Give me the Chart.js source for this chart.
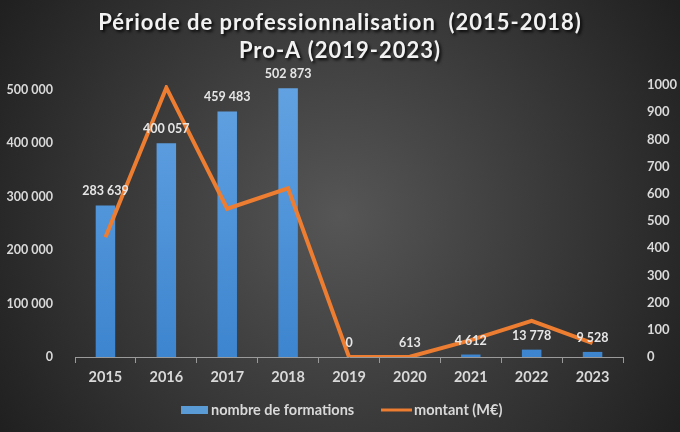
<!DOCTYPE html>
<html><head><meta charset="utf-8">
<script src="https://cdn.jsdelivr.net/npm/chart.js@4/dist/chart.umd.min.js"></script>
<style>html,body{margin:0;padding:0;background:#333;}#wrap{width:680px;height:432px;}</style>
</head><body><div id="wrap"><canvas id="c" width="680" height="432"></canvas></div>
<script>
const titleLines = ["Période de professionnalisation  (2015-2018)", "Pro-A (2019-2023)"];
const categories = ["2015","2016","2017","2018","2019","2020","2021","2022","2023"];
const formations = [283639, 400057, 459483, 502873, 0, 613, 4612, 13778, 9528];
const montant = [440, 990, 545, 620, 0, 1, 62, 133, 51];
const leftTicks = [0, 100000, 200000, 300000, 400000, 500000];
const rightTicks = [0,100,200,300,400,500,600,700,800,900,1000];
const seriesNames = ["nombre de formations", "montant (M€)"];

const FONT = "Lato";
const TXT = "#d9d9d9";
const fmt = v => String(v).replace(/\B(?=(\d{3})+(?!\d))/g, " ");

const bgPlugin = {
  id: "bg",
  beforeDraw(chart) {
    const ctx = chart.ctx, w = chart.width, h = chart.height;
    const g = ctx.createRadialGradient(w/2, h/2, 0, w/2, h/2, 400);
    g.addColorStop(0, "#565656");
    g.addColorStop(1, "#202020");
    ctx.save(); ctx.fillStyle = g; ctx.fillRect(0,0,w,h); ctx.restore();
  },
  afterDraw(chart) {
    const ctx = chart.ctx;
    ctx.save();
    ctx.font = "bold 22px " + FONT;
    ctx.letterSpacing = "1px";
    ctx.fillStyle = "#f2f2f2";
    ctx.textAlign = "center"; ctx.textBaseline = "middle";
    ctx.shadowColor = "rgba(0,0,0,0.85)"; ctx.shadowBlur = 3; ctx.shadowOffsetX = 2; ctx.shadowOffsetY = 2;
    ctx.fillText(titleLines[0], 340, 23);
    ctx.fillText(titleLines[1], 340, 51);
    ctx.restore();
    ctx.save();
    ctx.fillStyle = "#5b9bd5";
    ctx.fillRect(181, 406, 27, 8);
    ctx.font = "bold 14.5px " + FONT; ctx.fillStyle = TXT;
    ctx.textBaseline = "middle"; ctx.textAlign = "left";
    ctx.fillText(seriesNames[0], 211, 410);
    ctx.strokeStyle = "#ed7d31"; ctx.lineWidth = 3;
    ctx.beginPath(); ctx.moveTo(381, 410); ctx.lineTo(412, 410); ctx.stroke();
    ctx.fillText(seriesNames[1], 414, 410);
    ctx.restore();
  },
  afterDatasetsDraw(chart) {
    const ctx = chart.ctx;
    const meta = chart.getDatasetMeta(1);
    ctx.save();
    ctx.font = "bold 12.5px " + FONT; ctx.fillStyle = "#e6e6e6";
    ctx.textAlign = "center"; ctx.textBaseline = "middle";
    meta.data.forEach((bar, i) => {
      ctx.fillText(fmt(formations[i]), bar.x, bar.y - 14);
    });
    ctx.restore();
  }
};

const ctx = document.getElementById("c").getContext("2d");
new Chart(ctx, {
  data: {
    labels: categories,
    datasets: [
      { type: "line", label: seriesNames[1], data: montant, yAxisID: "y1",
        borderColor: "#ed7d31", borderWidth: 4, pointRadius: 0, tension: 0, order: 0,
        borderJoinStyle: "miter" },
      { type: "bar", label: seriesNames[0], data: formations, yAxisID: "y",
        backgroundColor: (c) => {
          const a = c.chart.chartArea;
          if (!a) return "#5b9bd5";
          const g = c.chart.ctx.createLinearGradient(0, a.top, 0, a.bottom);
          g.addColorStop(0, "#62a2e2"); g.addColorStop(1, "#3d85cf");
          return g;
        },
        categoryPercentage: 1, barPercentage: 0.32, order: 1 }
    ]
  },
  options: {
    responsive: false, animation: false, devicePixelRatio: 1,
    layout: { padding: { top: 85, left: 0, right: 0, bottom: 0 } },
    plugins: { legend: { display: false }, title: { display: false }, tooltip: { enabled: false } },
    scales: {
      x: {
        offset: true,
        grid: { display: true, offset: true, drawOnChartArea: false, color: "#9a9a9a", tickLength: 6, lineWidth: 1 },
        border: { display: true, color: "#9a9a9a" },
        ticks: { color: TXT, font: { family: FONT, size: 14.5, weight: "bold" }, padding: 6 },
        afterFit(s) { s.height = 75; }
      },
      y: {
        position: "left", min: 0, max: 509000,
        grid: { display: false }, border: { display: false },
        afterBuildTicks(s) { s.ticks = leftTicks.map(v => ({ value: v })); },
        ticks: { color: TXT, font: { family: FONT, size: 12.5, weight: "bold" }, padding: 14,
          callback: v => fmt(v) },
        afterFit(s) { s.width = 75; }
      },
      y1: {
        position: "right", min: 0, max: 1000,
        grid: { display: false }, border: { display: false },
        afterBuildTicks(s) { s.ticks = rightTicks.map(v => ({ value: v })); },
        ticks: { color: TXT, font: { family: FONT, size: 13, weight: "bold" }, padding: 16,
          callback: v => String(v) },
        afterFit(s) { s.width = 57; }
      }
    }
  },
  plugins: [bgPlugin]
});
</script></body></html>
